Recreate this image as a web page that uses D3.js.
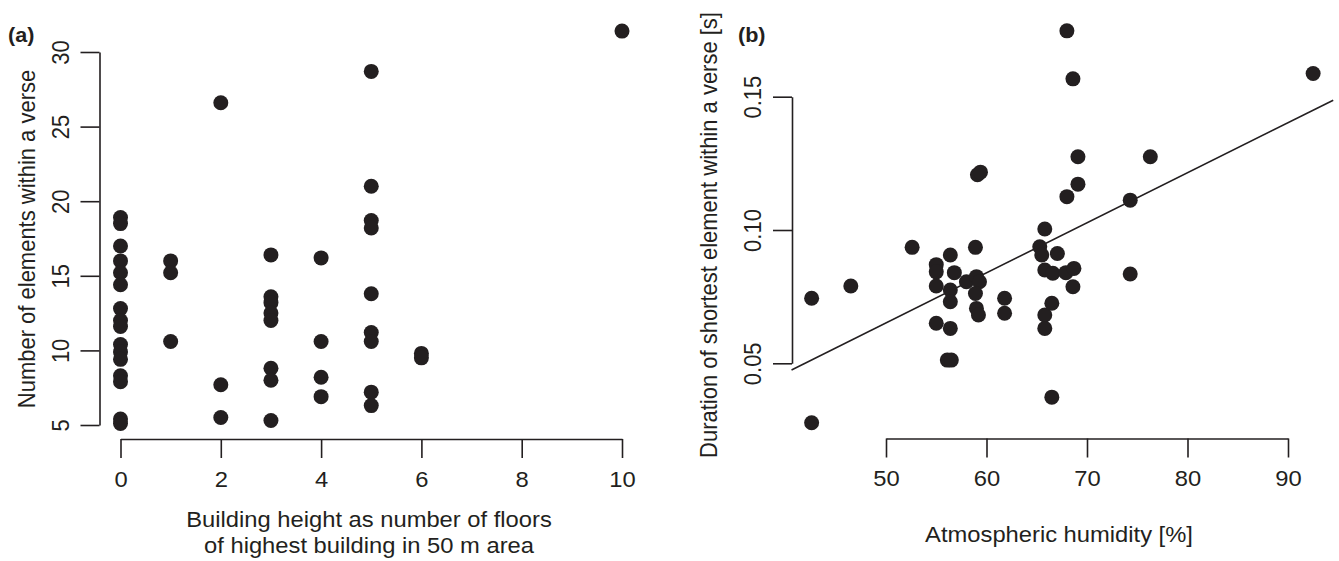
<!DOCTYPE html>
<html>
<head>
  <meta charset="UTF-8">
  <style>
    body {
      margin: 0;
      padding: 0;
      background: #fff;
    }
    svg {
      display: block;
      font-family: "Liberation Sans", Arial, Helvetica, sans-serif;
    }
    .axis path, .axis line {
      stroke: #231f20;
      stroke-width: 1.6;
      fill: none;
    }
    .axis text {
      font-size: 22px;
      fill: #231f20;
    }
    .label {
      font-size: 22px;
      fill: #231f20;
    }
    .panel-tag {
      font-size: 20px;
      font-weight: bold;
      fill: #231f20;
    }
  </style>
</head>
<body>
  <svg></svg>
  <script src="https://d3js.org/d3.v7.min.js"></script>

  <script>
    // panel (a): floors of highest building vs number of elements
    const floors = [
      0, 0, 0, 0, 0, 0, 0, 0, 0, 0, 0, 0, 0, 0, 0, 0,
      1, 1, 1,
      2, 2, 2,
      3, 3, 3, 3, 3, 3, 3, 3,
      4, 4, 4, 4,
      5, 5, 5, 5, 5, 5, 5, 5, 5,
      6, 6,
      10
    ];
    const elements = [
      18.9, 18.5, 17.0, 16.0, 15.2, 14.4, 12.8, 12.0, 11.6, 10.4, 9.9, 9.4, 8.3, 7.9, 5.4, 5.1,
      16.0, 15.2, 10.6,
      26.6, 7.7, 5.5,
      16.4, 13.6, 13.2, 12.5, 12.0, 8.8, 8.0, 5.3,
      16.2, 10.6, 8.2, 6.9,
      28.7, 21.0, 18.7, 18.2, 13.8, 11.2, 10.6, 7.2, 6.3,
      9.8, 9.5,
      31.4
    ];
    const floorTicks = [0, 2, 4, 6, 8, 10];
    const elementTicks = [5, 10, 15, 20, 25, 30];

    // panel (b): humidity vs shortest element duration
    const humidity = [
      42.6, 46.5, 42.6, 52.6, 55.0, 55.0, 55.0, 55.0, 56.4, 56.8,
      56.4, 56.4, 56.4, 56.1, 56.5, 58.0, 58.9, 59.1, 59.4, 59.0,
      59.3, 58.9, 59.0, 59.2, 61.8, 61.8, 65.3, 65.5, 65.8, 65.8,
      66.6, 65.8, 65.8, 66.5, 66.5, 67.05, 67.9, 68.7, 68.6, 68.0,
      68.6, 69.1, 69.1, 68.0, 74.3, 74.3, 76.3, 92.5
    ];
    const duration = [
      0.0744, 0.0790, 0.0277, 0.0935, 0.0870, 0.0843, 0.0790, 0.0650, 0.0906, 0.0840,
      0.0775, 0.0731, 0.0631, 0.0512, 0.0512, 0.0806, 0.0935, 0.1207, 0.1217, 0.0825,
      0.0806, 0.0762, 0.0706, 0.0681, 0.0744, 0.0688, 0.0937, 0.0906, 0.1004, 0.0850,
      0.0838, 0.0681, 0.0631, 0.0725, 0.0373, 0.0912, 0.0840, 0.0856, 0.0787, 0.1747,
      0.1567, 0.1275, 0.1172, 0.1125, 0.1112, 0.0835, 0.1275, 0.1587
    ];
    const humidityTicks = [50, 60, 70, 80, 90];
    const durationTicks = [0.05, 0.10, 0.15];
    // fitted line, read at the plot edges
    const fitX = [40.6, 94.5];
    const fitY = [0.0475, 0.1487];

    const width = 1339, height = 561;
    const ink = "#231f20";
    const stretch = "scale(1.08,1)";

    const svg = d3.select("svg")
        .attr("width", width)
        .attr("height", height);

    const xa = d3.scaleLinear().domain([0, 10]).range([120.5, 622]);
    const ya = d3.scaleLinear().domain([5, 30]).range([425, 52]);
    const xb = d3.scaleLinear().domain([50, 90]).range([886, 1288]);
    const yb = d3.scaleLinear().domain([0.05, 0.15]).range([363.3, 96.7]);

    function bottomAxis(scale, ticks, y, fmt) {
        const g = svg.append("g")
            .attr("class", "axis")
            .attr("transform", `translate(0,${y})`)
            .call(d3.axisBottom(scale).tickValues(ticks).tickSize(19)
                .tickSizeOuter(0).tickPadding(13).tickFormat(fmt));
        g.selectAll("text").attr("transform", stretch);
        return g;
    }

    function leftAxis(scale, ticks, x, fmt) {
        const g = svg.append("g")
            .attr("class", "axis")
            .attr("transform", `translate(${x},0)`)
            .call(d3.axisLeft(scale).tickValues(ticks).tickSize(19)
                .tickSizeOuter(0).tickFormat(fmt));
        g.selectAll("text")
            .attr("x", 0)
            .attr("y", -28.5)
            .attr("dy", null)
            .attr("text-anchor", "middle")
            .attr("transform", stretch + " rotate(-90)");
        return g;
    }

    // ---- panel (a) ----
    bottomAxis(xa, floorTicks, 439, d3.format("d"));
    leftAxis(ya, elementTicks, 99.5, d3.format("d"));

    svg.append("g")
        .selectAll("circle")
        .data(floors.map((d, i) => [d, elements[i]]))
        .enter()
        .append("circle")
        .attr("cx", d => xa(d[0]))
        .attr("cy", d => ya(d[1]))
        .attr("r", 7.5)
        .attr("fill", ink);

    svg.append("text")
        .attr("class", "panel-tag")
        .attr("transform", "translate(8,42) " + stretch)
        .text("(a)");

    svg.append("text")
        .attr("class", "label")
        .attr("text-anchor", "middle")
        .attr("transform", "translate(35,239) " + stretch + " rotate(-90)")
        .text("Number of elements within a verse");

    svg.append("text")
        .attr("class", "label")
        .attr("text-anchor", "middle")
        .attr("transform", "translate(369,527) " + stretch)
        .text("Building height as number of floors");

    svg.append("text")
        .attr("class", "label")
        .attr("text-anchor", "middle")
        .attr("transform", "translate(369,553) " + stretch)
        .text("of highest building in 50 m area");

    // ---- panel (b) ----
    bottomAxis(xb, humidityTicks, 438.5, d3.format("d"));
    leftAxis(yb, durationTicks, 792, d3.format(".2f"));

    svg.append("path")
        .datum(fitX.map((d, i) => [d, fitY[i]]))
        .attr("fill", "none")
        .attr("stroke", ink)
        .attr("stroke-width", 1.6)
        .attr("d", d3.line().x(d => xb(d[0])).y(d => yb(d[1])));

    svg.append("g")
        .selectAll("circle")
        .data(humidity.map((d, i) => [d, duration[i]]))
        .enter()
        .append("circle")
        .attr("cx", d => xb(d[0]))
        .attr("cy", d => yb(d[1]))
        .attr("r", 7.5)
        .attr("fill", ink);

    svg.append("text")
        .attr("class", "panel-tag")
        .attr("transform", "translate(738,42) " + stretch)
        .text("(b)");

    svg.append("text")
        .attr("class", "label")
        .attr("text-anchor", "middle")
        .attr("transform", "translate(717,235) " + stretch + " rotate(-90)")
        .text("Duration of shortest element within a verse [s]");

    svg.append("text")
        .attr("class", "label")
        .attr("text-anchor", "middle")
        .attr("transform", "translate(1059,542) " + stretch)
        .text("Atmospheric humidity [%]");
  </script>
</body>
</html>
